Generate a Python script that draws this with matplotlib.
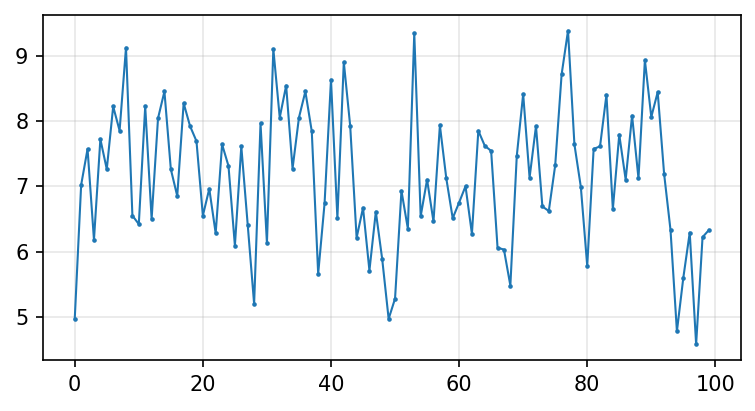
import numpy as np
import matplotlib
matplotlib.use("Agg")
import matplotlib.pyplot as plt

# values, index 0..99
values = [4.97, 7.02, 7.57, 6.18, 7.72, 7.26, 8.22, 7.85, 9.12, 6.55,
          6.42, 8.22, 6.50, 8.04, 8.45, 7.26, 6.85, 8.27, 7.92, 7.69,
          6.55, 6.96, 6.28, 7.64, 7.31, 6.09, 7.61, 6.41, 5.20, 7.96,
          6.13, 9.10, 8.05, 8.54, 7.27, 8.05, 8.45, 7.84, 5.66, 6.74,
          8.63, 6.51, 8.90, 7.92, 6.21, 6.67, 5.71, 6.61, 5.88, 4.97,
          5.28, 6.93, 6.35, 9.34, 6.54, 7.10, 6.46, 7.93, 7.12, 6.51,
          6.75, 7.00, 6.27, 7.85, 7.62, 7.54, 6.06, 6.03, 5.48, 7.46,
          8.41, 7.13, 7.92, 6.69, 6.62, 7.32, 8.71, 9.38, 7.64, 6.99,
          5.78, 7.57, 7.61, 8.40, 6.65, 7.79, 7.10, 8.08, 7.12, 8.93,
          8.06, 8.44, 7.19, 6.33, 4.78, 5.60, 6.29, 4.58, 6.22, 6.33]
x = np.arange(len(values))

fig = plt.figure(figsize=(755/150, 411/150), dpi=150)
ax = fig.add_axes([0.057, 0.124, 0.924, 0.8395])
ax.plot(x, values, "-o", color="#1f77b4", lw=1, ms=1.2)
ax.grid(True, alpha=0.3)
ax.set_xticks([0, 20, 40, 60, 80, 100])
ax.set_yticks([5, 6, 7, 8, 9])
fig.savefig("out.png", dpi=150)
